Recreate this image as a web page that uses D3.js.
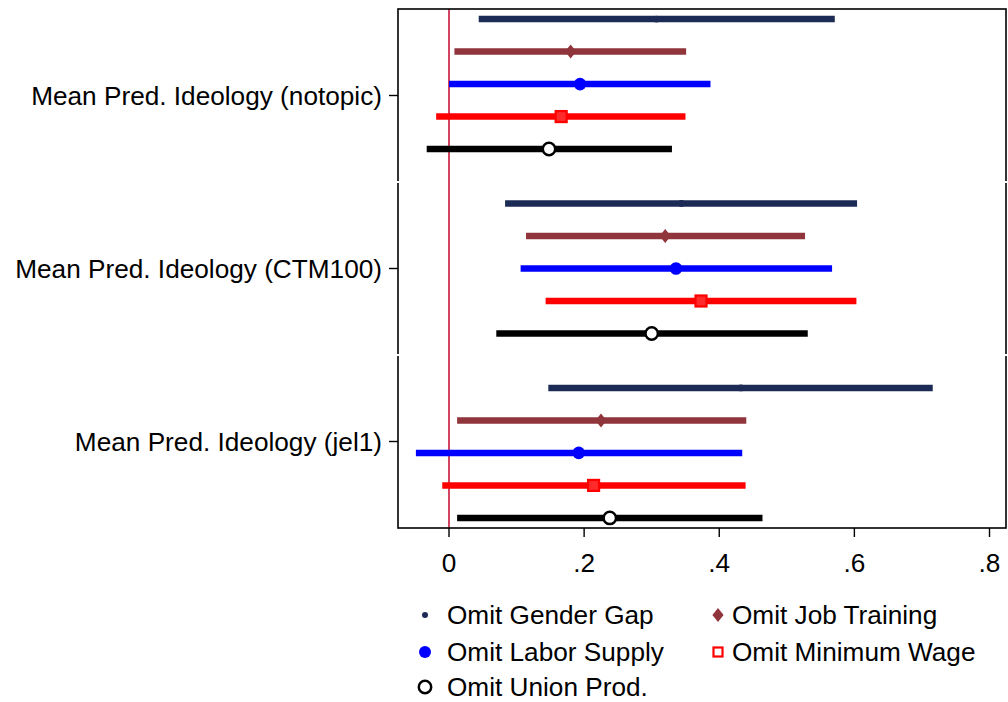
<!DOCTYPE html>
<html><head><meta charset="utf-8">
<script src="https://cdn.jsdelivr.net/npm/d3@7"></script>
<style>body{margin:0;background:#fff}svg{display:block}text{font-family:"Liberation Sans",Arial,sans-serif;fill:#000}</style>
</head><body><svg id="c" width="1008" height="702"></svg>
<script>
const categories = ["Mean Pred. Ideology (notopic)", "Mean Pred. Ideology (CTM100)", "Mean Pred. Ideology (jel1)"];
const seriesNames = ["Omit Gender Gap", "Omit Job Training", "Omit Labor Supply", "Omit Minimum Wage", "Omit Union Prod."];
const xTicks = [0, 0.2, 0.4, 0.6, 0.8];
const xTickLabels = ["0", ".2", ".4", ".6", ".8"];
// point estimates per series, one per category
const estGenderGap   = [0.307, 0.344, 0.432];
const estJobTraining = [0.180, 0.320, 0.225];
const estLaborSupply = [0.194, 0.336, 0.192];
const estMinWage     = [0.166, 0.373, 0.214];
const estUnionProd   = [0.148, 0.300, 0.238];
// lower CI
const loGenderGap   = [0.044, 0.083, 0.147];
const loJobTraining = [0.008, 0.114, 0.012];
const loLaborSupply = [0.000, 0.106, -0.049];
const loMinWage     = [-0.019, 0.143, -0.010];
const loUnionProd   = [-0.033, 0.070, 0.012];
// upper CI
const hiGenderGap   = [0.571, 0.604, 0.716];
const hiJobTraining = [0.351, 0.527, 0.440];
const hiLaborSupply = [0.387, 0.567, 0.434];
const hiMinWage     = [0.350, 0.603, 0.439];
const hiUnionProd   = [0.330, 0.531, 0.464];

const est = [estGenderGap, estJobTraining, estLaborSupply, estMinWage, estUnionProd];
const lo = [loGenderGap, loJobTraining, loLaborSupply, loMinWage, loUnionProd];
const hi = [hiGenderGap, hiJobTraining, hiLaborSupply, hiMinWage, hiUnionProd];

const colors = ["#1c2b55", "#90353b", "#0000ff", "#ff0000", "#000000"];

const svg = d3.select("#c");
const L = 398, R = 1006, T = 9, B = 528;
const FS = 26.2;
const x = d3.scaleLinear().domain([0, 0.8]).range([449, 989.5]);
const y = d3.scaleLinear().domain([0.5, 3.5]).range([T, B]);

const rows = [];
categories.forEach((c, ci) => {
  seriesNames.forEach((s, si) => {
    const off = (si - 2) * 0.1878 + (ci - 1) * 0.066;
    rows.push({ci, si, pos: ci + 1 + off, e: est[si][ci], l: lo[si][ci], h: hi[si][ci]});
  });
});

// zero line
svg.append("line").attr("x1", x(0)).attr("x2", x(0)).attr("y1", T).attr("y2", B)
  .attr("stroke", "#c8163a").attr("stroke-width", 1.6);

// CI bars
svg.append("g").selectAll("line").data(rows).join("line")
  .attr("x1", d => x(d.l)).attr("x2", d => x(d.h))
  .attr("y1", d => y(d.pos)).attr("y2", d => y(d.pos))
  .attr("stroke", d => colors[d.si]).attr("stroke-width", 6.5);

function marker(g, si, cx, cy, legend) {
  const c = colors[si];
  if (si === 0) g.append("circle").attr("cx", cx).attr("cy", cy).attr("r", legend ? 3 : 3.4).attr("fill", c);
  else if (si === 1) { const s = 7; g.append("path").attr("d", `M${cx},${cy-s}L${cx+s*0.8},${cy}L${cx},${cy+s}L${cx-s*0.8},${cy}Z`).attr("fill", c); }
  else if (si === 2) g.append("circle").attr("cx", cx).attr("cy", cy).attr("r", legend ? 6 : 6.3).attr("fill", c);
  else if (si === 3) { const h = legend ? 4.5 : 5.5; g.append("rect").attr("x", cx-h).attr("y", cy-h).attr("width", 2*h).attr("height", 2*h)
      .attr("fill", legend ? "#fff" : "#ff2a2a").attr("stroke", c).attr("stroke-width", 2.2); }
  else g.append("circle").attr("cx", cx).attr("cy", cy).attr("r", 6.2).attr("fill", "#fff").attr("stroke", c).attr("stroke-width", 2.5);
}
const mg = svg.append("g");
rows.forEach(d => marker(mg, d.si, x(d.e), y(d.pos), false));

// frame
svg.append("rect").attr("x", L).attr("y", T).attr("width", R - L).attr("height", B - T)
  .attr("fill", "none").attr("stroke", "#000").attr("stroke-width", 1.6);
// small breaks at category boundaries
[1.5, 2.5].forEach(v => {
  [L, R].forEach(xx => svg.append("rect").attr("x", xx - 2).attr("y", y(v) - 1).attr("width", 4).attr("height", 2).attr("fill", "#fff"));
});

// x axis
const xa = svg.append("g");
xTicks.forEach((t, i) => {
  xa.append("line").attr("x1", x(t)).attr("x2", x(t)).attr("y1", B).attr("y2", B + 9).attr("stroke", "#000").attr("stroke-width", 1.4);
  xa.append("text").attr("x", x(t)).attr("y", B + 44).attr("text-anchor", "middle").attr("font-size", FS).text(xTickLabels[i]);
});

// y axis
const ya = svg.append("g");
categories.forEach((c, i) => {
  ya.append("line").attr("x1", L - 9).attr("x2", L).attr("y1", y(i + 1)).attr("y2", y(i + 1)).attr("stroke", "#000").attr("stroke-width", 1.4);
  ya.append("text").attr("x", L - 16).attr("y", y(i + 1)).attr("dy", "0.35em").attr("text-anchor", "end").attr("font-size", FS).text(c);
});

// legend
const legPos = [[425, 615], [718, 615], [425, 652], [718, 652], [425, 687]];
const lg = svg.append("g");
seriesNames.forEach((s, i) => {
  const [lx, ly] = legPos[i];
  marker(lg, i, lx, ly, true);
  lg.append("text").attr("x", lx + (i % 2 === 0 ? 22 : 14)).attr("y", ly).attr("dy", "0.35em").attr("font-size", FS).text(s);
});
</script></body></html>
